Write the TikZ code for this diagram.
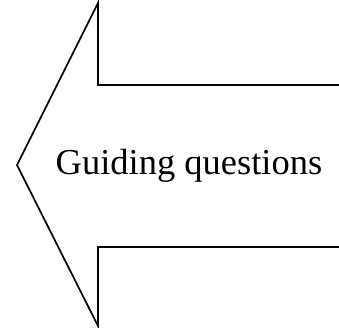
\documentclass[tikz,border=0pt]{standalone}
\usepackage{fontspec}
\setmainfont{Liberation Serif}
\usetikzlibrary{positioning}

\begin{document}
\begin{tikzpicture}[
      x=1pt, y=-1pt,
      outline/.style={draw, line width=1.7pt, line join=miter},
      lbl/.style={font=\fontsize{36.5}{40}\selectfont, inner sep=0pt},
    ]
    \useasboundingbox (0,0) rectangle (339,328);

    %% Arrow outline (open on the right)
    \coordinate (tip)    at (17,165);
    \coordinate (headup) at (98,3);
    \coordinate (headlo) at (98,326);
    \coordinate (shup)   at (98,85);
    \coordinate (shlo)   at (98,247);
    \coordinate (endup)  at (339,85);
    \coordinate (endlo)  at (339,247);

    \draw[outline] (endup) -- (shup) -- (headup) -- (tip) -- (headlo) -- (shlo) -- (endlo);

    %% Label
    \node[lbl] (guide) at (189,166) {Guiding questions};
  \end{tikzpicture}
\end{document}
